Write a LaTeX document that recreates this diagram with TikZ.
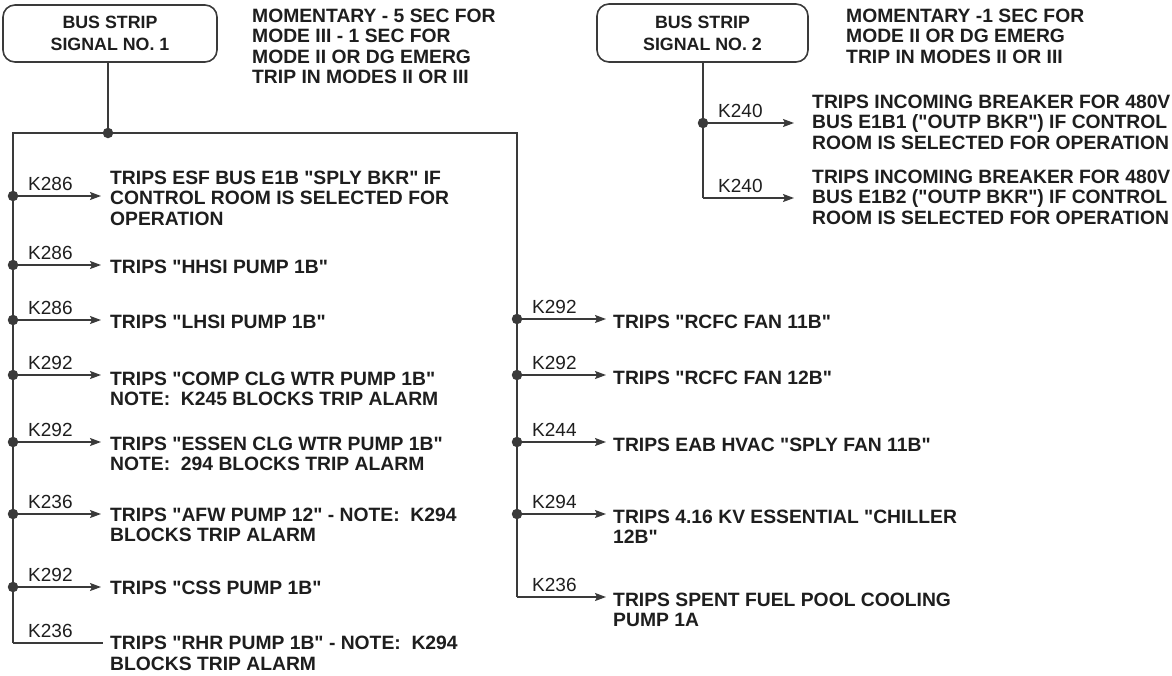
\documentclass[tikz,border=0pt]{standalone}
\usepackage{fontspec}
\setmainfont{Liberation Sans}
\usetikzlibrary{arrows.meta}
\definecolor{ink}{HTML}{1E1E1E}
\definecolor{wire}{HTML}{3A3A3A}
\newcommand{\qq}{\textquotedbl}
\begin{document}
\begin{tikzpicture}[x=1pt,y=-1pt,
  wire/.style={draw=wire,line width=1.6pt},
  arr/.style={wire,-{Stealth[length=11pt,width=8pt,inset=2pt]}},
  dot/.style={circle,fill=wire,inner sep=0pt,minimum size=10.5pt},
  lbl/.style={anchor=base west,inner sep=0pt,text=ink,font=\fontsize{19}{20}\selectfont},
  txt/.style={anchor=base west,inner sep=0pt,align=left,text=ink,font=\bfseries\fontsize{19.3}{20.5}\selectfont},
  sig/.style={draw=wire,line width=1.6pt,rounded corners=12pt,text=ink,align=center,inner sep=0pt,font=\bfseries\fontsize{17.8}{22}\selectfont},
]
\useasboundingbox (0,0) rectangle (1172,675);

% ---------- signal 1 ----------
\node[sig,minimum width=214pt,minimum height=57pt] (b1) at (110,33.5) {BUS STRIP\\SIGNAL NO. 1};
% anchor base west = baseline of the LAST line
\node[txt] (n1) at (252,83.5) {MOMENTARY - 5 SEC FOR\\MODE III - 1 SEC FOR\\MODE II OR DG EMERG\\TRIP IN MODES II OR III};

\node[dot] (j1) at (108,133) {};
\draw[wire] (j1 |- b1.south) -- (j1);

\coordinate (tl) at (13,133);
\coordinate (tr) at (517,133);
\coordinate (bl) at (13,643);
\coordinate (br) at (517,597);
\draw[wire] (bl) -- (tl) -- (tr) -- (br);

% left branches
\foreach \i/\y in {1/196,2/265,3/320,4/375,5/442,6/514,7/587}{
  \node[dot] (L\i) at (13,\y) {};
  \coordinate (LA\i) at (101,\y);
  \draw[arr] (L\i.center) -- (LA\i);
}
\coordinate (LA8) at (103,643);
\draw[wire] (bl) -- (LA8);

\node[lbl] (lk1) at (28,190) {K286};
\node[lbl] (lk2) at (28,259) {K286};
\node[lbl] (lk3) at (28,314) {K286};
\node[lbl] (lk4) at (28,369) {K292};
\node[lbl] (lk5) at (28,436) {K292};
\node[lbl] (lk6) at (28,508) {K236};
\node[lbl] (lk7) at (28,581) {K292};
\node[lbl] (lk8) at (28,637) {K236};

\node[txt] (lt1) at (110,225) {TRIPS ESF BUS E1B \qq SPLY BKR\qq{} IF\\CONTROL ROOM IS SELECTED FOR\\OPERATION};
\node[txt] (lt2) at (110,273) {TRIPS \qq HHSI PUMP 1B\qq};
\node[txt] (lt3) at (110,328) {TRIPS \qq LHSI PUMP 1B\qq};
\node[txt] (lt4) at (110,405.5) {TRIPS \qq COMP CLG WTR PUMP 1B\qq\\NOTE:\ \ K245 BLOCKS TRIP ALARM};
\node[txt] (lt5) at (110,470.5) {TRIPS \qq ESSEN CLG WTR PUMP 1B\qq\\NOTE:\ \ 294 BLOCKS TRIP ALARM};
\node[txt] (lt6) at (110,541.5) {TRIPS \qq AFW PUMP 12\qq{} - NOTE:\ \ K294\\BLOCKS TRIP ALARM};
\node[txt] (lt7) at (110,594) {TRIPS \qq CSS PUMP 1B\qq};
\node[txt] (lt8) at (110,670) {TRIPS \qq RHR PUMP 1B\qq{} - NOTE:\ \ K294\\BLOCKS TRIP ALARM};

% right branches
\foreach \i/\y in {1/319,2/375,3/442,4/514}{
  \node[dot] (R\i) at (517,\y) {};
  \coordinate (RA\i) at (606,\y);
  \draw[arr] (R\i.center) -- (RA\i);
}
\coordinate (RA5) at (606,597);
\draw[arr] (br) -- (RA5);

\node[lbl] (rk1) at (532,313) {K292};
\node[lbl] (rk2) at (532,369) {K292};
\node[lbl] (rk3) at (532,436) {K244};
\node[lbl] (rk4) at (532,508) {K294};
\node[lbl] (rk5) at (532,591) {K236};

\node[txt] (rt1) at (613,328) {TRIPS \qq RCFC FAN 11B\qq};
\node[txt] (rt2) at (613,384) {TRIPS \qq RCFC FAN 12B\qq};
\node[txt] (rt3) at (613,451) {TRIPS EAB HVAC \qq SPLY FAN 11B\qq};
\node[txt] (rt4) at (613,543.5) {TRIPS 4.16 KV ESSENTIAL \qq CHILLER\\12B\qq};
\node[txt] (rt5) at (613,626.5) {TRIPS SPENT FUEL POOL COOLING\\PUMP 1A};

% ---------- signal 2 ----------
\node[sig,minimum width=211pt,minimum height=58pt] (b2) at (702.5,33) {BUS STRIP\\SIGNAL NO. 2};
\node[txt] (n2) at (846,63) {MOMENTARY -1 SEC FOR\\MODE II OR DG EMERG\\TRIP IN MODES II OR III};

\node[dot] (S1) at (703,123) {};
\coordinate (S2) at (703,198);
\draw[wire] (S2 |- b2.south) -- (S2);
\coordinate (SA1) at (794,123);
\coordinate (SA2) at (794,198);
\draw[arr] (S1.center) -- (SA1);
\draw[arr] (S2) -- (SA2);

\node[lbl] (sk1) at (718,117) {K240};
\node[lbl] (sk2) at (718,192) {K240};

\node[txt] (st1) at (812,149) {TRIPS INCOMING BREAKER FOR 480V\\BUS E1B1 (\qq OUTP BKR\qq) IF CONTROL\\ROOM IS SELECTED FOR OPERATION};
\node[txt] (st2) at (812,224) {TRIPS INCOMING BREAKER FOR 480V\\BUS E1B2 (\qq OUTP BKR\qq) IF CONTROL\\ROOM IS SELECTED FOR OPERATION};
\end{tikzpicture}
\end{document}
